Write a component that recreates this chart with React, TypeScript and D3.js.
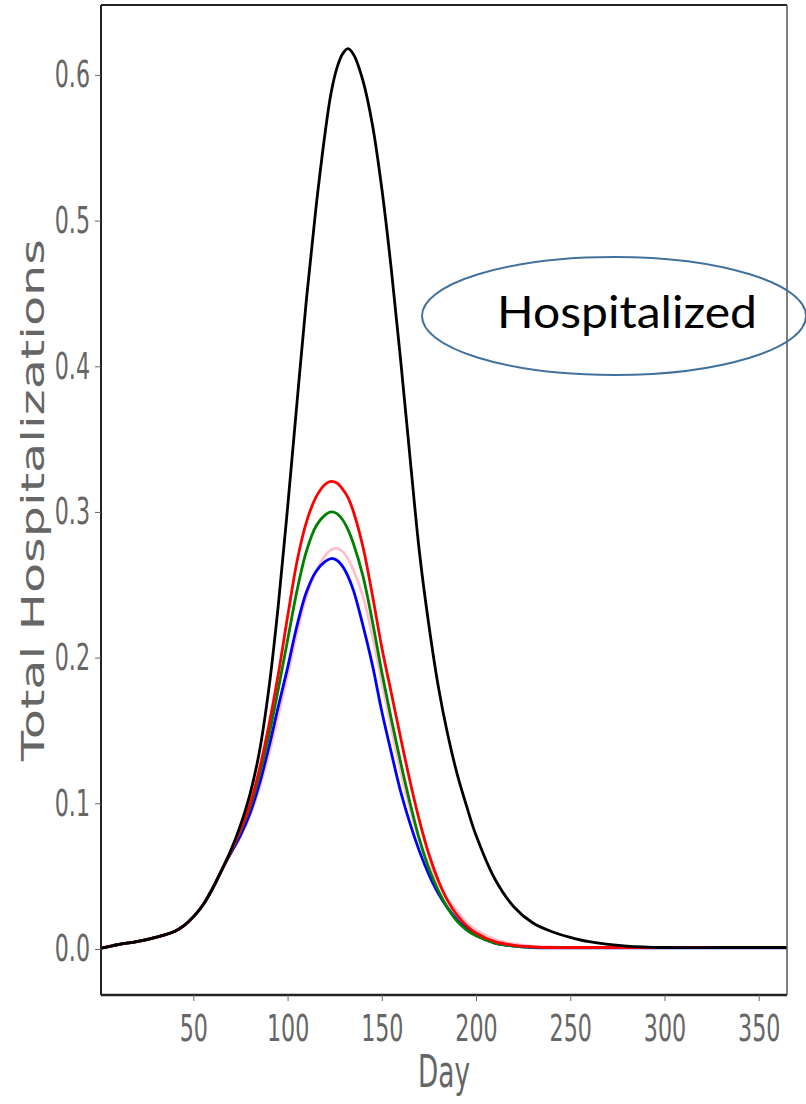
import React, { useEffect, useRef } from 'react';
import * as d3 from 'd3';

const width = 806;
const height = 1104;
const margin = { top: 5, right: 19, bottom: 109, left: 101 };

// sampled days (shared by every series)
const days = [1, 10, 20, 30, 40, 45, 50, 55, 60, 65, 70, 75, 80, 85, 90, 95, 100, 105, 110, 115, 120, 123, 126, 129, 132, 135, 140, 145, 150, 155, 160, 165, 170, 175, 180, 185, 190, 195, 200, 210, 220, 230, 240, 250, 260, 280, 300, 330, 365];

// total hospitalizations per scenario
const blackVals = [0.0005, 0.003, 0.005, 0.008, 0.012, 0.016, 0.022, 0.03, 0.041, 0.054, 0.068, 0.085, 0.106, 0.135, 0.178, 0.235, 0.303, 0.375, 0.446, 0.508, 0.561, 0.587, 0.604, 0.614, 0.618, 0.614, 0.596, 0.566, 0.522, 0.467, 0.404, 0.337, 0.272, 0.222, 0.18, 0.147, 0.12, 0.098, 0.078, 0.048, 0.029, 0.018, 0.012, 0.008, 0.005, 0.002, 0.001, 0.001, 0.001];
const redVals = [0.0005, 0.003, 0.005, 0.008, 0.012, 0.016, 0.022, 0.03, 0.041, 0.054, 0.067, 0.082, 0.099, 0.123, 0.153, 0.188, 0.228, 0.266, 0.293, 0.31, 0.319, 0.321, 0.32, 0.316, 0.31, 0.3, 0.276, 0.243, 0.207, 0.176, 0.145, 0.115, 0.088, 0.065, 0.047, 0.033, 0.023, 0.016, 0.011, 0.005, 0.0025, 0.0015, 0.001, 0.001, 0.001, 0.001, 0.001, 0.001, 0.001];
const greenVals = [0.0005, 0.003, 0.005, 0.008, 0.012, 0.016, 0.022, 0.03, 0.041, 0.054, 0.067, 0.081, 0.097, 0.119, 0.146, 0.178, 0.212, 0.246, 0.273, 0.29, 0.298, 0.3, 0.299, 0.295, 0.288, 0.278, 0.256, 0.225, 0.19, 0.158, 0.128, 0.1, 0.075, 0.055, 0.04, 0.028, 0.019, 0.013, 0.009, 0.004, 0.002, 0.0012, 0.001, 0.001, 0.001, 0.001, 0.001, 0.001, 0.001];
const pinkVals = [0.0005, 0.003, 0.005, 0.008, 0.012, 0.016, 0.022, 0.03, 0.041, 0.054, 0.066, 0.077, 0.091, 0.11, 0.133, 0.16, 0.188, 0.217, 0.242, 0.259, 0.27, 0.274, 0.275, 0.273, 0.268, 0.26, 0.242, 0.215, 0.183, 0.152, 0.122, 0.096, 0.075, 0.058, 0.045, 0.034, 0.026, 0.018, 0.013, 0.0065, 0.0035, 0.002, 0.0015, 0.001, 0.001, 0.001, 0.001, 0.001, 0.001];
const blueVals = [0.0005, 0.003, 0.005, 0.008, 0.012, 0.016, 0.022, 0.03, 0.041, 0.054, 0.066, 0.078, 0.093, 0.113, 0.138, 0.166, 0.193, 0.222, 0.245, 0.259, 0.266, 0.268, 0.267, 0.263, 0.256, 0.246, 0.222, 0.195, 0.163, 0.135, 0.108, 0.086, 0.067, 0.051, 0.038, 0.028, 0.02, 0.014, 0.0095, 0.004, 0.002, 0.001, 0.0008, 0.0008, 0.0008, 0.0008, 0.0008, 0.0008, 0.0008];

// drawn in this order (black on top)
const series = [
  { name: 'pink', values: pinkVals, color: '#ffc0cb' },
  { name: 'blue', values: blueVals, color: '#0000ff' },
  { name: 'green', values: greenVals, color: '#008000' },
  { name: 'red', values: redVals, color: '#ff0000' },
  { name: 'black', values: blackVals, color: '#000000' },
];

const xTicks = [50, 100, 150, 200, 250, 300, 350];
const yTicks = [0, 0.1, 0.2, 0.3, 0.4, 0.5, 0.6];

const xScale = d3.scaleLinear().domain([1, 365]).range([margin.left, width - margin.right]);
const yScale = d3.scaleLinear().domain([-0.0316, 0.648]).range([height - margin.bottom, margin.top]);

const line = d3.line<number>()
  .x((d, i) => xScale(days[i]))
  .y(d => yScale(d))
  .curve(d3.curveCatmullRom.alpha(0.5));

const squeeze = 0.6; // tick labels look horizontally condensed

export default function App() {
  const xAxisRef = useRef<SVGGElement>(null);
  const yAxisRef = useRef<SVGGElement>(null);

  useEffect(() => {
    const xAxis = d3.axisBottom(xScale).tickValues(xTicks).tickSize(6).tickFormat(d => `${d}`);
    const yAxis = d3.axisLeft(yScale).tickValues(yTicks).tickSize(6).tickFormat(d3.format('.1f'));

    const gx = d3.select(xAxisRef.current!).call(xAxis);
    gx.select('.domain').remove();
    gx.selectAll('line').attr('stroke', '#666');
    gx.selectAll('text')
      .attr('font-family', 'DejaVu Sans')
      .attr('font-size', 37)
      .attr('fill', '#666')
      .attr('y', 20)
      .attr('transform', `scale(${squeeze},1)`);

    const gy = d3.select(yAxisRef.current!).call(yAxis);
    gy.select('.domain').remove();
    gy.selectAll('line').attr('stroke', '#666');
    gy.selectAll('text')
      .attr('font-family', 'DejaVu Sans')
      .attr('font-size', 37)
      .attr('fill', '#666')
      .attr('x', -11 / squeeze)
      .attr('transform', `scale(${squeeze},1)`);
  }, []);

  const plotW = width - margin.left - margin.right;
  const plotH = height - margin.top - margin.bottom;

  return (
    <svg width={width} height={height} style={{ position: 'absolute', left: 0, top: 0, background: '#fff' }}>
      <rect x={0} y={0} width={width} height={height} fill="#fff" />
      <defs>
        <clipPath id="plot">
          <rect x={margin.left} y={margin.top} width={plotW} height={plotH} />
        </clipPath>
      </defs>
      <g clipPath="url(#plot)">
        {series.map(s => (
          <path key={s.name} d={line(s.values) || ''} fill="none" stroke={s.color} strokeWidth={2.8} />
        ))}
      </g>
      {/* frame */}
      <line x1={margin.left} x2={width - margin.right} y1={margin.top} y2={margin.top} stroke="#222" strokeWidth={2} />
      <line x1={margin.left} x2={margin.left} y1={margin.top} y2={height - margin.bottom} stroke="#222" strokeWidth={2} />
      <line x1={margin.left} x2={width - margin.right} y1={height - margin.bottom} y2={height - margin.bottom} stroke="#222" strokeWidth={2.5} />
      <line x1={width - margin.right} x2={width - margin.right} y1={margin.top} y2={height - margin.bottom} stroke="#555" strokeWidth={1.5} />
      <g ref={xAxisRef} transform={`translate(0, ${height - margin.bottom})`} />
      <g ref={yAxisRef} transform={`translate(${margin.left}, 0)`} />
      <text x={margin.left + plotW / 2} y={1087} textAnchor="middle" fontFamily="DejaVu Sans" fontSize={44}
        fill="#666" textLength={52} lengthAdjust="spacingAndGlyphs">Day</text>
      <text transform={`translate(44, ${margin.top + plotH / 2}) rotate(-90)`} textAnchor="middle" fontFamily="DejaVu Sans"
        fontSize={32} fill="#666" textLength={522} lengthAdjust="spacingAndGlyphs">Total Hospitalizations</text>
      {/* annotation */}
      <ellipse cx={614} cy={316} rx={192} ry={59} fill="none" stroke="#41719c" strokeWidth={2} />
      <text x={497} y={328} fontFamily="Lato" fontSize={45} fill="#000" textLength={260} lengthAdjust="spacingAndGlyphs">Hospitalized</text>
    </svg>
  );
}
